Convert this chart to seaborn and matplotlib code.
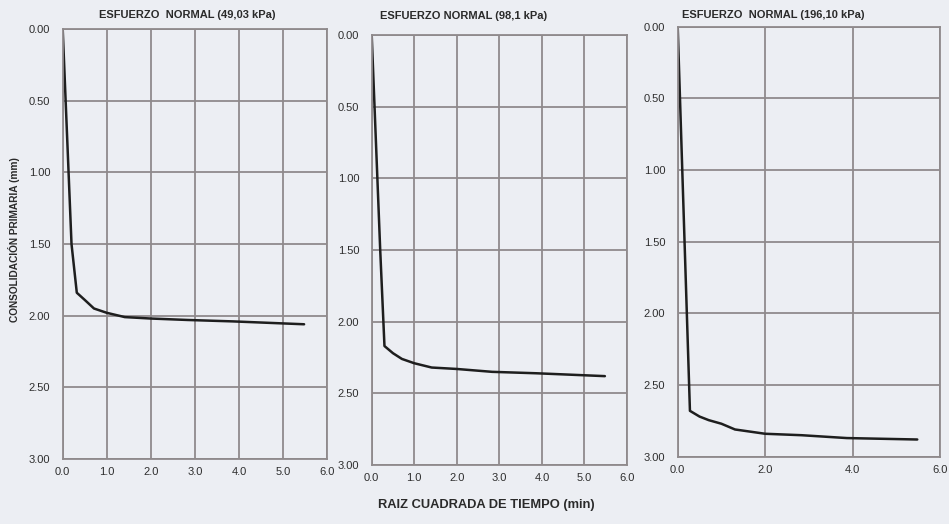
import matplotlib
matplotlib.use("Agg")
import matplotlib.pyplot as plt
import seaborn as sns
import pandas as pd

# ---- data ----
x1 = [0, 0.20, 0.32, 0.50, 0.71, 1.00, 1.41, 2.00, 2.83, 3.87, 5.48]
y1 = [0, 1.50, 1.84, 1.89, 1.95, 1.98, 2.01, 2.02, 2.03, 2.04, 2.06]

x2 = [0, 0.20, 0.30, 0.50, 0.71, 1.00, 1.41, 2.00, 2.83, 3.87, 5.48]
y2 = [0, 1.50, 2.17, 2.22, 2.26, 2.29, 2.32, 2.33, 2.35, 2.36, 2.38]

x3 = [0, 0.28, 0.50, 0.71, 1.00, 1.31, 2.00, 2.83, 3.87, 5.48]
y3 = [0, 2.68, 2.72, 2.745, 2.77, 2.81, 2.84, 2.85, 2.87, 2.88]

titles = ["ESFUERZO  NORMAL (49,03 kPa)", "ESFUERZO NORMAL (98,1 kPa)",
          "ESFUERZO  NORMAL (196,10 kPa)"]
y_ticks = [0.0, 0.5, 1.0, 1.5, 2.0, 2.5, 3.0]
y_ticklabels = ["0.00", "0.50", "1.00", "1.50", "2.00", "2.50", "3.00"]
x_ticks_a = [0, 1, 2, 3, 4, 5, 6]
x_ticklabels_a = ["0.0", "1.0", "2.0", "3.0", "4.0", "5.0", "6.0"]
x_ticks_b = [0, 2, 4, 6]
x_ticklabels_b = ["0.0", "2.0", "4.0", "6.0"]
xlabel = "RAIZ CUADRADA DE TIEMPO (min)"
ylabel = "CONSOLIDACIÓN PRIMARIA (mm)"

sns.set_theme(style="whitegrid")
plt.rcParams['font.family'] = ['Liberation Sans', 'DejaVu Sans']

BG = "#eceef3"
GRID = "#8f8a8c"
W, H = 949, 524
fig = plt.figure(figsize=(W / 100, H / 100), dpi=100, facecolor=BG)

def px_axes(left, top, right, bottom):
    return fig.add_axes([left / W, 1 - bottom / H, (right - left) / W, (bottom - top) / H])

axes = [px_axes(62.7, 29, 327, 459),
        px_axes(371.7, 35, 627, 465),
        px_axes(677.7, 26.7, 940, 456.7)]
data = [(x1, y1), (x2, y2), (x3, y3)]
xt = [(x_ticks_a, x_ticklabels_a), (x_ticks_a, x_ticklabels_a), (x_ticks_b, x_ticklabels_b)]
title_pos = [(187, 15), (464, 16), (773, 15)]

for ax, (xs, ys), (tks, tls), title, (tx, ty) in zip(axes, data, xt, titles, title_pos):
    ax.set_facecolor(BG)
    df = pd.DataFrame({"x": xs, "y": ys})
    sns.lineplot(data=df, x="x", y="y", sort=False, ax=ax, color="#1e1e1e", lw=1.8)
    ax.set_xlim(0, 6)
    ax.set_ylim(3, 0)
    ax.set_xticks(tks)
    ax.set_xticklabels(tls)
    ax.set_yticks(y_ticks)
    ax.set_yticklabels(y_ticklabels)
    ax.tick_params(axis="both", length=0, labelsize=8, colors="#2e2e2e")
    ax.tick_params(axis="y", pad=9)
    ax.tick_params(axis="x", pad=6)
    ax.grid(True, color=GRID, lw=1.3)
    for s in ax.spines.values():
        s.set_visible(True)
        s.set_color(GRID)
        s.set_linewidth(1.3)
    ax.set_xlabel("")
    ax.set_ylabel("")
    fig.text(tx / W, 1 - ty / H, title, ha="center", va="center",
             fontsize=8, fontweight="bold", color="#2a2a2a")

fig.text(486 / W, 1 - 505 / H, xlabel, ha="center", va="center",
         fontsize=9.3, fontweight="bold", color="#2a2a2a")
fig.text(14 / W, 1 - 240 / H, ylabel, ha="center", va="center", rotation=90,
         fontsize=7.3, fontweight="bold", color="#2a2a2a")

fig.savefig("out.png", dpi=100, facecolor=BG)
